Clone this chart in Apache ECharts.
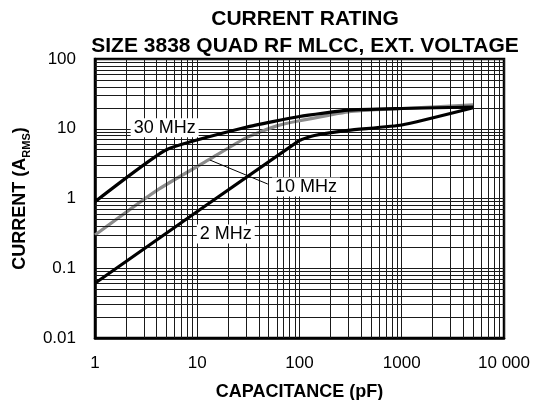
<!DOCTYPE html>
<html>
<head>
<meta charset="utf-8">
<script src="https://cdn.jsdelivr.net/npm/echarts@6/dist/echarts.min.js"></script>
<style>
html,body{margin:0;padding:0;background:#fff;}
#c{width:542px;height:400px;}
</style>
</head>
<body>
<div id="c"></div>
<script>
// ---- data ----
const titleLines = ['CURRENT RATING', 'SIZE 3838 QUAD RF MLCC, EXT. VOLTAGE'];
const xAxisName = 'CAPACITANCE (pF)';
const xTickValues = [1, 10, 100, 1000, 10000];
const xTickLabels = ['1', '10', '100', '1000', '10 000'];
const yTickValues = [0.01, 0.1, 1, 10, 100];
const yTickLabels = ['0.01', '0.1', '1', '10', '100'];

const cap30 = [1, 5, 30, 100, 300, 1000, 5000];
const cur30 = [0.9, 5, 10.5, 15, 18.5, 19.5, 20.5];
const cap10 = [1, 4, 13, 30, 60, 100, 300, 1000, 5000];
const cur10 = [0.3, 1.3, 3.6, 7.4, 11, 13, 17.5, 19.5, 22];
const cap2 = [1, 100, 140, 300, 1000, 5000];
const cur2 = [0.061, 6.8, 8, 9.5, 11.3, 20];

const labelNames = ['30 MHz', '10 MHz', '2 MHz'];
const labelCap = [4.8, 116, 19];
const labelCur = [10.3, 1.46, 0.31];
const leaderFrom = [13.3, 3.56];
const leaderTo = [49, 1.61];

// minor grid values (2..9 per decade)
const minorX = [];
for (let d = 1; d < 10000; d *= 10) for (let k = 2; k <= 9; k++) minorX.push(k * d);
const minorY = [];
for (let d = 0.01; d < 100; d *= 10) for (let k = 2; k <= 9; k++) minorY.push(+(k * d).toPrecision(3));

const zip = (a, b) => a.map((v, i) => [v, b[i]]);
const font = '"Liberation Sans", Arial, Helvetica, sans-serif';
const gridColor = '#1a1a1a';

const chart = echarts.init(document.getElementById('c'), null, {renderer: 'canvas'});
const option = {
  animation: false,
  backgroundColor: '#fff',
  title: {
    text: titleLines.join('\n'),
    left: 300, top: 1, textAlign: 'center',
    textStyle: {fontFamily: font, fontSize: 21, fontWeight: 'bold', color: '#000', lineHeight: 27}
  },
  grid: {left: 95, right: 38, top: 59, bottom: 62, show: true, borderColor: '#000', borderWidth: 2.5,
    backgroundColor: 'transparent', containLabel: false, outerBoundsMode: 'none'},
  xAxis: {
    type: 'log', logBase: 10, min: 1, max: 10000,
    name: xAxisName, nameLocation: 'middle', nameGap: 45,
    nameTextStyle: {fontFamily: font, fontSize: 18, fontWeight: 'bold', color: '#000'},
    axisLine: {show: true, lineStyle: {color: '#000', width: 2.5}},
    axisTick: {show: false},
    axisLabel: {fontFamily: font, fontSize: 17, color: '#000', margin: 17,
      formatter: v => { const i = xTickValues.findIndex(t => Math.abs(t - v) / t < 1e-6); return i >= 0 ? xTickLabels[i] : ''; }},
    splitLine: {show: true, lineStyle: {color: gridColor, width: 1}}
  },
  yAxis: {
    type: 'log', logBase: 10, min: 0.01, max: 100,
    name: '{a|CURRENT (A}{s|RMS}{a|)}', nameLocation: 'middle', nameGap: 60, nameRotate: 90,
    nameTextStyle: {rich: {
      a: {fontFamily: font, fontSize: 18, fontWeight: 'bold', color: '#000', lineHeight: 24, verticalAlign: 'middle'},
      s: {fontFamily: font, fontSize: 11, fontWeight: 'bold', color: '#000', lineHeight: 24, verticalAlign: 'bottom'}
    }},
    axisLine: {show: true, lineStyle: {color: '#000', width: 2.5}},
    axisTick: {show: false},
    axisLabel: {fontFamily: font, fontSize: 17, color: '#000', margin: 19,
      formatter: v => { const i = yTickValues.findIndex(t => Math.abs(t - v) / t < 1e-6); return i >= 0 ? yTickLabels[i] : ''; }},
    splitLine: {show: true, lineStyle: {color: gridColor, width: 1}}
  },
  series: [
    {
      type: 'line', name: 'minorGrid', data: [], silent: true, z: 1,
      markLine: {
        silent: true, symbol: 'none', animation: false,
        label: {show: false},
        lineStyle: {color: gridColor, width: 1, type: 'solid'},
        data: minorX.map(v => ({xAxis: v})).concat(minorY.map(v => ({yAxis: v})))
      }
    },
    {
      type: 'line', name: 'leader', data: [], silent: true, z: 3,
      markLine: {
        silent: true, symbol: 'none', animation: false, label: {show: false},
        lineStyle: {color: '#000', width: 1, type: 'solid'},
        data: [[{coord: leaderFrom}, {coord: leaderTo}]]
      }
    },
    {type: 'line', name: '10 MHz', data: zip(cap10, cur10), showSymbol: false, smooth: 0.2, z: 4,
      lineStyle: {color: '#8c8c8c', width: 3.2}},
    {type: 'line', name: '30 MHz', data: zip(cap30, cur30), showSymbol: false, smooth: 0.15, z: 5,
      lineStyle: {color: '#000', width: 3.2}},
    {type: 'line', name: '2 MHz', data: zip(cap2, cur2), showSymbol: false, smooth: 0.15, z: 5,
      lineStyle: {color: '#000', width: 3.2}},
    {
      type: 'scatter', name: 'labels', z: 10, symbolSize: 1, silent: true,
      itemStyle: {color: '#fff', opacity: 1},
      data: labelNames.map((n, i) => ({value: [labelCap[i], labelCur[i]], name: n})),
      label: {show: true, position: 'inside', formatter: p => p.name,
        fontFamily: font, fontSize: 18, color: '#000', textBorderWidth: 0, textBorderColor: 'transparent',
        backgroundColor: '#fff', padding: [1, 3, 0, 3]}
    }
  ]
};
chart.setOption(option);
</script>
</body>
</html>
